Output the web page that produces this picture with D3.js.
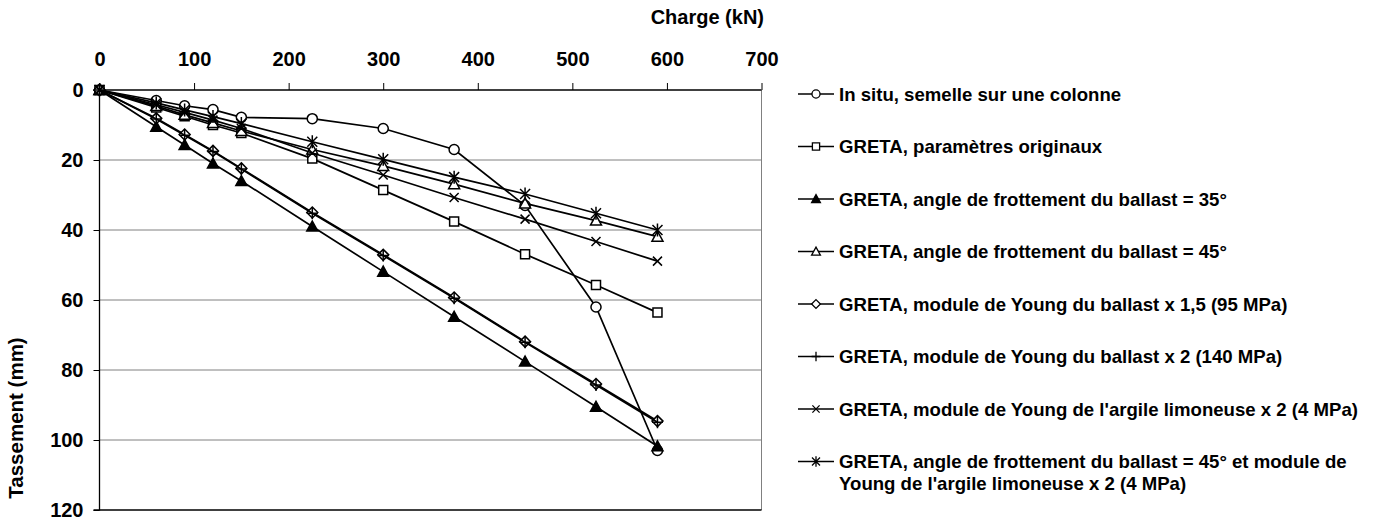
<!DOCTYPE html>
<html><head><meta charset="utf-8">
<script src="https://cdn.jsdelivr.net/npm/d3@7"></script>
<style>body{margin:0;background:#fff}svg{display:block}text{font-family:"Liberation Sans",Arial,sans-serif;font-weight:bold;fill:#000}</style>
</head><body><svg id="c" width="1380" height="521"></svg>
<script>
const charge = [0, 60, 90, 120, 150, 225, 300, 375, 450, 525, 590];
const inSitu = [0, 3.0, 4.5, 5.6, 7.8, 8.2, 11.0, 17.0, 33.0, 62.0, 103.0];
const gretaOrig = [0, 5.0, 7.5, 10.0, 12.3, 19.6, 28.6, 37.6, 46.9, 55.7, 63.6];
const greta35 = [0, 10.5, 15.7, 21.0, 26.0, 39.0, 51.9, 64.8, 77.6, 90.5, 101.8];
const greta45 = [0, 4.6, 7.1, 9.4, 11.7, 17.0, 21.7, 26.9, 32.4, 37.3, 41.9];
const youngBallast15 = [0, 8.1, 12.7, 17.4, 22.4, 35.0, 47.1, 59.3, 71.9, 84.0, 94.6];
const youngBallast2 = [0, 8.3, 12.9, 17.6, 22.6, 35.2, 47.3, 59.5, 72.1, 84.3, 94.9];
const youngArgile2 = [0, 4.2, 6.4, 8.6, 11.0, 18.0, 24.3, 30.7, 36.9, 43.3, 48.9];
const greta45Argile2 = [0, 3.7, 5.7, 7.6, 9.6, 14.8, 19.8, 24.9, 29.7, 35.2, 40.0];
const seriesNames = [
  ["In situ, semelle sur une colonne"],
  ["GRETA, paramètres originaux"],
  ["GRETA, angle de frottement du ballast = 35°"],
  ["GRETA, angle de frottement du ballast = 45°"],
  ["GRETA, module de Young du ballast x 1,5 (95 MPa)"],
  ["GRETA, module de Young du ballast x 2 (140 MPa)"],
  ["GRETA, module de Young de l'argile limoneuse x 2 (4 MPa)"],
  ["GRETA, angle de frottement du ballast = 45° et module de", "Young de l'argile limoneuse x 2 (4 MPa)"]
];
const seriesValues = [inSitu, gretaOrig, greta35, greta45, youngBallast15, youngBallast2, youngArgile2, greta45Argile2];
const markerKinds = ["circle", "square", "triFilled", "triOpen", "diamond", "plus", "cross", "star"];
const xTicks = [0, 100, 200, 300, 400, 500, 600, 700];
const yTicks = [0, 20, 40, 60, 80, 100, 120];
const xTitle = "Charge (kN)";
const yTitle = "Tassement (mm)";

const svg = d3.select("#c");
const x = d3.scaleLinear().domain([0, 700]).range([99.5, 761.5]);
const y = d3.scaleLinear().domain([0, 120]).range([90, 510]);

// gridlines
svg.append("g").selectAll("line").data(yTicks.filter(d => d > 0 && d < 120)).join("line")
  .attr("x1", x(0)).attr("x2", x(700)).attr("y1", d => y(d)).attr("y2", d => y(d))
  .attr("stroke", "#808080").attr("stroke-width", 1);
// right border
svg.append("line").attr("x1", x(700)).attr("x2", x(700)).attr("y1", y(0)).attr("y2", y(120))
  .attr("stroke", "#808080").attr("stroke-width", 1);

// axes
const xAxis = d3.axisTop(x).tickValues(xTicks).tickSize(7).tickPadding(17).tickFormat(d3.format("d"));
const gx = svg.append("g").attr("transform", `translate(0,${y(0)})`).call(xAxis);
const yAxis = d3.axisLeft(y).tickValues(yTicks).tickSize(6).tickPadding(10).tickFormat(d3.format("d"));
const gy = svg.append("g").attr("transform", `translate(${x(0)},0)`).call(yAxis);
[gx, gy].forEach(g => {
  g.select(".domain").attr("stroke", "#000").attr("stroke-width", 1.3);
  g.selectAll(".tick line").attr("stroke", "#000").attr("stroke-width", 1);
  g.selectAll(".tick text").style("font-size", "20px").style("font-weight", "bold")
    .style("font-family", '"Liberation Sans",Arial,sans-serif').attr("fill", "#000");
});
gy.select(".domain").attr("d", `M-6,${y(0)}H0V${y(120)}H-6`);
gx.select(".domain").attr("d", `M${x(0)},0H${x(700)}`);
svg.append("line").attr("x1", x(0)).attr("x2", x(700)).attr("y1", y(120)).attr("y2", y(120))
  .attr("stroke", "#000").attr("stroke-width", 1.3);

svg.append("text").attr("x", 764).attr("y", 24).attr("text-anchor", "end")
  .style("font-size", "20px").text(xTitle);
svg.append("text").attr("transform", "translate(23,418) rotate(-90)").attr("text-anchor", "middle")
  .style("font-size", "20.5px").text(yTitle);

function markerPath(kind, s) {
  const k = s;
  switch (kind) {
    case "circle": return d3.symbol(d3.symbolCircle, 80 * k * k)();
    case "square": return `M${-4.5*k},${-4.5*k}h${9*k}v${9*k}h${-9*k}Z`;
    case "triFilled":
    case "triOpen": return `M0,${-5.5*k}L${5.5*k},${4.5*k}L${-5.5*k},${4.5*k}Z`;
    case "diamond": return `M0,${-5.5*k}L${5.5*k},0L0,${5.5*k}L${-5.5*k},0Z`;
    case "plus": return `M${-5.5*k},0H${5.5*k}M0,${-6*k}V${6*k}`;
    case "cross": return `M${-4.5*k},${-4.5*k}L${4.5*k},${4.5*k}M${-4.5*k},${4.5*k}L${4.5*k},${-4.5*k}`;
    case "star": return `M${-5*k},${-5*k}L${5*k},${5*k}M${-5*k},${5*k}L${5*k},${-5*k}M0,${-6.5*k}V${6.5*k}`;
  }
}
function markerFill(kind) {
  if (kind === "triFilled") return "#000";
  if (["plus", "cross", "star"].includes(kind)) return "none";
  return "#fff";
}

const line = d3.line().x((d, i) => x(charge[i])).y(d => y(d));
seriesValues.forEach((vals, si) => {
  const g = svg.append("g");
  g.append("path").datum(vals).attr("d", line).attr("fill", "none")
    .attr("stroke", "#000").attr("stroke-width", 1.7);
  g.selectAll("path.m").data(vals).join("path").attr("class", "m")
    .attr("transform", (d, i) => `translate(${x(charge[i])},${y(d)})`)
    .attr("d", markerPath(markerKinds[si], 1))
    .attr("fill", markerFill(markerKinds[si])).attr("stroke", "#000").attr("stroke-width", 1.5);
});

// legend
const legY0 = 94, legStep = 52.5;
const leg = svg.append("g");
seriesNames.forEach((lines, i) => {
  const cy = legY0 + i * legStep;
  const g = leg.append("g");
  g.append("line").attr("x1", 798).attr("x2", 834).attr("y1", cy).attr("y2", cy)
    .attr("stroke", "#000").attr("stroke-width", 1.5);
  g.append("path").attr("transform", `translate(816,${cy})`).attr("d", markerPath(markerKinds[i], 0.8))
    .attr("fill", markerFill(markerKinds[i])).attr("stroke", "#000").attr("stroke-width", 1.3);
  lines.forEach((t, j) => {
    g.append("text").attr("x", 839).attr("y", cy + 6.5 + j * 22).style("font-size", "18.6px").text(t);
  });
});
</script></body></html>
